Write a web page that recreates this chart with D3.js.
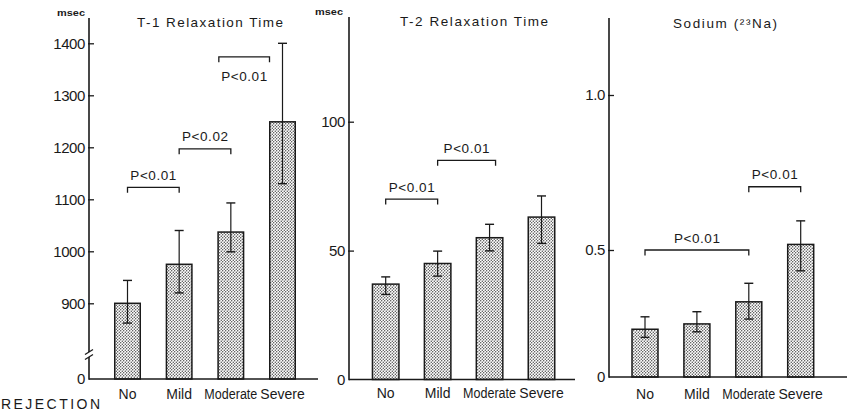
<!DOCTYPE html>
<html>
<head>
<meta charset="utf-8">
<script src="https://cdn.jsdelivr.net/npm/d3@7"></script>
<style>
  html, body { margin: 0; padding: 0; background: #fff; }
  svg { display: block; }
  text { font-family: "Liberation Sans", Arial, sans-serif; fill: #1a1a1a; }
</style>
</head>
<body>
<svg id="chart" width="852" height="411"></svg>
<script>
// ---- data ----
const categories = ["No", "Mild", "Moderate", "Severe"];

const t1Mean  = [900, 975, 1037, 1249];
const t1Upper = [944, 1040, 1093, 1400];
const t1Lower = [862, 920, 999, 1130];
const t1Ticks = [0, 900, 1000, 1100, 1200, 1300, 1400];
const t1TickLabels = ["0", "900", "1000", "1100", "1200", "1300", "1400"];

const t2Mean  = [37, 45, 55, 63];
const t2Upper = [39.8, 49.8, 60.2, 71.2];
const t2Lower = [33.0, 40.1, 49.9, 52.8];
const t2Ticks = [0, 50, 100];
const t2TickLabels = ["0", "50", "100"];

const naMean  = [0.188, 0.209, 0.296, 0.518];
const naUpper = [0.237, 0.257, 0.369, 0.594];
const naLower = [0.156, 0.178, 0.228, 0.418];
const naTicks = [0, 0.5, 1.0];
const naTickLabels = ["0", "0.5", "1.0"];

const titles = ["T-1 Relaxation Time", "T-2 Relaxation Time", "Sodium (²³Na)"];
const units = ["msec", "msec", ""];

// significance comparisons: [from index, to index, level (data units), label]
const t1Comparisons = [[0, 1, 1123, "P<0.01"], [1, 2, 1197, "P<0.02"], [2, 3, 1374, "P<0.01"]];
const t2Comparisons = [[0, 1, 70, "P<0.01"], [1, 2, 85, "P<0.01"]];
const naComparisons = [[0, 2, 0.5, "P<0.01"], [2, 3, 0.704, "P<0.01"]];

// ---- layout (positions / styles only) ----
const panels = [
  { mean: t1Mean, up: t1Upper, lo: t1Lower, ticks: t1Ticks, tickLabels: t1TickLabels,
    comps: t1Comparisons, title: titles[0], unit: units[0],
    axisX: 89, axisTop: 18, xEnd: 318, xRange: [127.5, 282.5], barW: 25.5,
    yDomain: [0, 800, 1400], yRange: [379, 355.3, 43.3], breakAt: 355,
    titleX: 137, titleW: 146, titleY: 26.5, unitX: 57, unitY: 15.5,
    labelY: 399, compOffsets: [[0, 0], [0, 0], [-12, -13]], compTextBelow: [false, false, true] },
  { mean: t2Mean, up: t2Upper, lo: t2Lower, ticks: t2Ticks, tickLabels: t2TickLabels,
    comps: t2Comparisons, title: titles[1], unit: units[1],
    axisX: 349, axisTop: 17, xEnd: 575, xRange: [385.7, 541.5], barW: 26.5,
    yDomain: [0, 100], yRange: [379.5, 121.7], breakAt: null,
    titleX: 400, titleW: 148, titleY: 25.5, unitX: 315, unitY: 15,
    labelY: 398, compOffsets: [[0, 0], [0, 6]], compTextBelow: [false, false] },
  { mean: naMean, up: naUpper, lo: naLower, ticks: naTicks, tickLabels: naTickLabels,
    comps: naComparisons, title: titles[2], unit: units[2],
    axisX: 609, axisTop: 18, xEnd: 847, xRange: [645, 800.7], barW: 26,
    yDomain: [0, 0.5, 1.0], yRange: [377, 250, 95], breakAt: null,
    titleX: 673, titleW: 104, titleY: 28, unitX: 0, unitY: 0,
    labelY: 399, compOffsets: [[0, 0], [0, 0]], compTextBelow: [false, false] }
];

const ink = "#1a1a1a";
const svg = d3.select("#chart");

// stipple pattern
const defs = svg.append("defs");
const pat = defs.append("pattern").attr("id", "stipple")
  .attr("patternUnits", "userSpaceOnUse").attr("width", 3).attr("height", 3);
pat.append("rect").attr("width", 3).attr("height", 3).attr("fill", "#fff");
pat.append("circle").attr("cx", 0.75).attr("cy", 0.75).attr("r", 0.65).attr("fill", "#333");
pat.append("circle").attr("cx", 2.25).attr("cy", 2.25).attr("r", 0.65).attr("fill", "#333");

panels.forEach((p) => {
  const g = svg.append("g");
  const x = d3.scalePoint().domain(categories).range(p.xRange);
  const y = d3.scaleLinear().domain(p.yDomain).range(p.yRange);
  const y0 = y(0);

  // bars
  g.selectAll("rect.bar").data(categories).join("rect")
    .attr("class", "bar")
    .attr("x", d => x(d) - p.barW / 2)
    .attr("width", p.barW)
    .attr("y", (d, i) => y(p.mean[i]))
    .attr("height", (d, i) => y0 - y(p.mean[i]))
    .attr("fill", "url(#stipple)")
    .attr("stroke", ink).attr("stroke-width", 1.5);

  // error bars
  const eb = g.selectAll("g.err").data(categories).join("g").attr("class", "err");
  eb.append("line")
    .attr("x1", d => x(d)).attr("x2", d => x(d))
    .attr("y1", (d, i) => y(p.up[i])).attr("y2", (d, i) => y(p.lo[i]))
    .attr("stroke", ink).attr("stroke-width", 1.2);
  eb.append("line")
    .attr("x1", d => x(d) - 4.5).attr("x2", d => x(d) + 4.5)
    .attr("y1", (d, i) => y(p.up[i])).attr("y2", (d, i) => y(p.up[i]))
    .attr("stroke", ink).attr("stroke-width", 1.4);
  eb.append("line")
    .attr("x1", d => x(d) - 4.5).attr("x2", d => x(d) + 4.5)
    .attr("y1", (d, i) => y(p.lo[i])).attr("y2", (d, i) => y(p.lo[i]))
    .attr("stroke", ink).attr("stroke-width", 1.4);

  // y axis (inward ticks)
  const yAxis = d3.axisRight(y).tickValues(p.ticks.filter(t => t !== 0))
    .tickSize(5).tickFormat("");
  const ya = g.append("g").attr("transform", `translate(${p.axisX},0)`).call(yAxis);
  ya.select(".domain").remove();
  ya.selectAll(".tick line").attr("stroke", ink).attr("stroke-width", 1.3).attr("x1", -1);

  if (p.breakAt !== null) {
    g.append("line").attr("x1", p.axisX).attr("x2", p.axisX)
      .attr("y1", p.axisTop).attr("y2", p.breakAt - 3)
      .attr("stroke", ink).attr("stroke-width", 1.6);
    g.append("line").attr("x1", p.axisX).attr("x2", p.axisX)
      .attr("y1", p.breakAt + 2).attr("y2", y0 + 0.8)
      .attr("stroke", ink).attr("stroke-width", 1.6);
    [-3, 2].forEach(o => {
      g.append("line")
        .attr("x1", p.axisX - 4).attr("y1", p.breakAt + o + 2.5)
        .attr("x2", p.axisX + 4).attr("y2", p.breakAt + o - 2.5)
        .attr("stroke", ink).attr("stroke-width", 1.3);
    });
  } else {
    g.append("line").attr("x1", p.axisX).attr("x2", p.axisX)
      .attr("y1", p.axisTop).attr("y2", y0 + 0.8)
      .attr("stroke", ink).attr("stroke-width", 1.6);
  }

  // tick labels
  g.selectAll("text.yt").data(p.ticks).join("text")
    .attr("class", "yt")
    .attr("x", p.axisX - 4)
    .attr("y", d => y(d) + 5.2)
    .attr("text-anchor", "end")
    .attr("font-size", 15)
    .attr("letter-spacing", -0.4)
    .text((d, i) => p.tickLabels[i]);

  // x axis line
  g.append("line").attr("x1", p.axisX).attr("x2", p.xEnd)
    .attr("y1", y0).attr("y2", y0)
    .attr("stroke", ink).attr("stroke-width", 1.6);

  // category labels
  g.selectAll("text.xl").data(categories).join("text")
    .attr("class", "xl")
    .attr("x", d => x(d))
    .attr("y", p.labelY)
    .attr("text-anchor", "middle")
    .attr("font-size", 14)
    .text(d => d)
    .each(function () {
      const w = this.getComputedTextLength();
      if (w > 54) d3.select(this).attr("textLength", 53).attr("lengthAdjust", "spacingAndGlyphs");
    });

  // title
  g.append("text").attr("x", p.titleX).attr("y", p.titleY)
    .attr("font-size", 13.5).attr("textLength", p.titleW).attr("lengthAdjust", "spacing")
    .text(p.title);

  if (p.unit) {
    g.append("text").attr("x", p.unitX).attr("y", p.unitY)
      .attr("font-size", 9.5).attr("font-weight", "bold").attr("textLength", 28)
      .attr("lengthAdjust", "spacingAndGlyphs")
      .text(p.unit);
  }

  // significance brackets
  p.comps.forEach((c, k) => {
    const [a, b, lvl, lab] = c;
    const off = p.compOffsets[k];
    const xa = x(categories[a]) + off[0];
    const xb = x(categories[b]) + off[1];
    const yl = y(lvl);
    g.append("path")
      .attr("d", `M${xa},${yl + 5.5}V${yl}H${xb}V${yl + 5.5}`)
      .attr("fill", "none").attr("stroke", ink).attr("stroke-width", 1.3);
    g.append("text")
      .attr("x", (xa + xb) / 2)
      .attr("y", p.compTextBelow[k] ? yl + 24 : yl - 7.5)
      .attr("text-anchor", "middle")
      .attr("font-size", 13.5)
      .attr("textLength", 46).attr("lengthAdjust", "spacing")
      .text(lab);
  });
});

// REJECTION label
svg.append("text").attr("x", 1).attr("y", 409)
  .attr("font-size", 14).attr("textLength", 99).attr("lengthAdjust", "spacing")
  .text("REJECTION");
</script>
</body>
</html>
